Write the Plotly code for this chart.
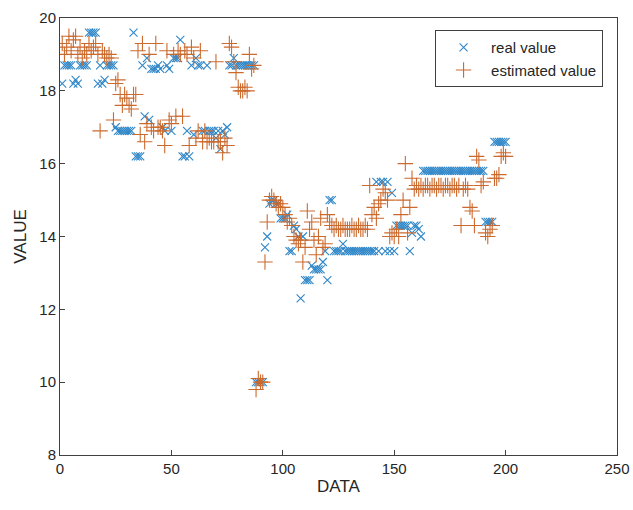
import plotly.graph_objects as go

real_value = [
    18.2, 18.7, 18.7, 18.7, 18.7, 18.2, 18.3, 18.2, 18.7, 18.7,
    18.7, 18.7, 19.6, 19.6, 19.6, 19.6, 18.2, 18.7, 18.2, 18.3,
    18.7, 18.7, 18.7, 18.7, 17.0, 16.9, 16.9, 16.9, 16.9, 16.9,
    16.9, 16.9, 19.6, 16.2, 16.2, 16.2, 18.7, 17.3, 18.9, 17.2,
    18.6, 18.6, 18.6, 18.7, 18.6, 17.0, 16.9, 18.7, 18.6, 16.9,
    18.9, 18.9, 18.9, 19.4, 16.2, 16.2, 16.9, 16.2, 18.7, 16.8,
    18.9, 18.7, 18.7, 16.9, 16.9, 18.7, 16.9, 16.9, 16.9, 16.7,
    16.9, 16.4, 16.9, 16.8, 17.0, 18.7, 18.7, 18.9, 18.7, 18.7,
    18.7, 18.7, 18.7, 18.7, 18.7, 18.7, 18.7, 10.0, 10.0, 10.0,
    10.0, 13.7, 14.0, 14.9, 15.0, 15.0, 14.9, 14.9, 14.5, 14.5,
    14.5, 14.6, 13.6, 13.6, 14.3, 14.2, 14.0, 12.3, 14.0, 12.8,
    12.8, 12.8, 13.2, 13.1, 13.1, 13.1, 13.1, 13.3, 13.6, 12.8,
    15.0, 15.0, 13.6, 13.6, 13.6, 13.6, 13.8, 13.6, 13.6, 13.6,
    13.6, 13.6, 13.6, 13.6, 13.6, 13.6, 13.6, 13.6, 13.6, 13.6,
    13.6, 15.5, 13.6, 15.5, 15.5, 13.6, 15.5, 13.6, 15.2, 13.6,
    14.3, 14.3, 14.3, 14.3, 14.3, 14.3, 13.6, 14.1, 14.3, 14.3,
    14.2, 14.0, 15.8, 15.8, 15.8, 15.8, 15.8, 15.8, 15.8, 15.8,
    15.8, 15.8, 15.8, 15.8, 15.8, 15.8, 15.8, 15.8, 15.8, 15.8,
    15.8, 15.8, 15.8, 15.8, 15.8, 15.8, 15.8, 15.8, 15.8, 15.8,
    14.4, 14.4, 14.4, 14.4, 16.6, 16.6, 16.6, 16.6, 16.6, 16.6,
]

estimated_value = [
    19.3, 19.0, 19.2, 19.5, 19.1, 19.4, 19.5, 19.0, 19.2, 18.9,
    19.1, 19.0, 19.3, 19.1, 19.2, 19.3, 19.0, 16.9, 19.1, 19.0,
    18.9, 19.0, 18.9, 17.2, 18.2, 18.3, 17.9, 17.6, 17.9, 17.8,
    17.6, 17.5, 17.9, 17.9, 19.1, 16.8, 19.3, 16.6, 17.1, 19.0,
    17.0, 16.9, 19.3, 17.0, 17.0, 16.9, 16.5, 19.1, 17.2, 17.1,
    19.0, 17.3, 19.1, 19.0, 17.3, 19.1, 19.0, 16.5, 19.2, 18.9,
    16.7, 16.9, 19.1, 16.6, 16.9, 16.6, 16.7, 16.6, 16.6, 18.8,
    16.6, 16.6, 16.3, 16.7, 16.5, 19.3, 19.2, 18.8, 18.5, 18.1,
    18.0, 18.0, 18.1, 18.0, 19.0, 18.6, 18.7, 9.8, 10.1, 10.0,
    10.0, 13.3, 14.4, 15.0, 15.1, 15.0, 14.9, 14.8, 14.9, 14.8,
    14.6, 14.4, 14.5, 14.3, 14.0, 13.9, 13.8, 13.9, 13.3, 13.7,
    14.7, 14.2, 14.4, 13.9, 13.5, 14.0, 14.5, 13.7, 13.8, 14.6,
    14.4, 14.3, 14.2, 14.3, 14.2, 14.2, 14.3, 14.2, 14.2, 14.2,
    14.3, 14.2, 14.2, 14.3, 14.2, 14.2, 14.3, 14.2, 15.4, 14.6,
    14.8, 14.5, 14.9, 15.0, 15.3, 15.2, 15.0, 14.0, 14.1, 14.0,
    14.2, 14.0, 14.6, 15.0, 16.0, 14.1, 14.8, 15.6, 15.3, 15.4,
    15.3, 15.4, 15.3, 15.4, 15.4, 15.3, 15.4, 15.4, 15.3, 15.4,
    15.4, 15.3, 15.4, 15.4, 15.3, 15.4, 15.4, 15.3, 15.4, 14.3,
    15.3, 15.4, 15.3, 14.8, 14.7, 14.3, 16.2, 16.1, 15.4, 15.5,
    14.1, 14.0, 14.2, 14.3, 15.6, 15.6, 15.7, 16.2, 16.3, 16.2,
]

data_index = list(range(1, len(real_value) + 1))

x_ticks = [0, 50, 100, 150, 200, 250]
y_ticks = [8, 10, 12, 14, 16, 18, 20]

fig = go.Figure()
fig.add_trace(go.Scatter(
    x=data_index, y=real_value, mode="markers", name="real value",
    marker=dict(symbol="x-thin-open", size=8, color="#2E86C8",
                line=dict(color="#2E86C8", width=1.1)),
))
fig.add_trace(go.Scatter(
    x=data_index, y=estimated_value, mode="markers", name="estimated value",
    marker=dict(symbol="cross-thin-open", size=11, color="#CC6A2E",
                line=dict(color="#CC6A2E", width=1.1)),
))

axis_common = dict(
    showgrid=False, zeroline=False, showline=True, mirror=True,
    linecolor="#404040", linewidth=1, ticks="inside", ticklen=5,
    tickcolor="#404040", automargin=False,
    tickfont=dict(family="Liberation Sans, Arial", size=15, color="#262626"),
)

fig.update_layout(
    width=633, height=510,
    margin=dict(l=60, r=16, t=18, b=55),
    paper_bgcolor="white", plot_bgcolor="white",
    font=dict(family="Liberation Sans, Arial", color="#262626"),
    xaxis=dict(range=[0, 250], tickvals=x_ticks,
               title=dict(text="DATA", font=dict(size=17), standoff=4), **axis_common),
    yaxis=dict(range=[8, 20], tickvals=y_ticks,
               title=dict(text="VALUE", font=dict(size=17), standoff=8), **axis_common),
    legend=dict(x=0.975, y=0.972, xanchor="right", yanchor="top",
                bgcolor="white", bordercolor="#404040", borderwidth=1,
                itemwidth=45, tracegroupgap=0,
                font=dict(size=15, color="#262626")),
    showlegend=True,
)

fig.write_html("out.html")
